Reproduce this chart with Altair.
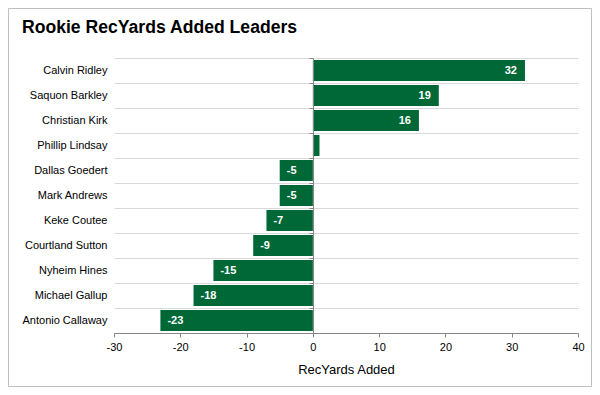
import altair as alt
import pandas as pd

players = ["Calvin Ridley", "Saquon Barkley", "Christian Kirk", "Phillip Lindsay",
           "Dallas Goedert", "Mark Andrews", "Keke Coutee", "Courtland Sutton",
           "Nyheim Hines", "Michael Gallup", "Antonio Callaway"]
rec_yards_added = [32, 19, 16, 1, -5, -5, -7, -9, -15, -18, -23]
x_ticks = [-30, -20, -10, 0, 10, 20, 30, 40]
x_domain = [-30, 40]
title_text = "Rookie RecYards Added Leaders"
x_title = "RecYards Added"

df = pd.DataFrame({"player": players, "value": rec_yards_added})

FONT = "Liberation Sans"
GREEN = "#006837"
GRAY = "#868686"
W, H = 464, 275

yscale = alt.Scale(domain=players, paddingInner=0, paddingOuter=0)
xscale = alt.Scale(domain=x_domain, nice=False)

label_axis = alt.Axis(title=None, domain=False, ticks=False, labelPadding=7,
                      labelFont=FONT, labelFontSize=11, labelColor="#000",
                      grid=True, gridColor="#d9d9d9", tickBand="extent", labelLimit=200)
x_axis = alt.Axis(values=x_ticks, title=x_title, grid=False, domainColor=GRAY,
                  tickColor=GRAY, tickSize=4, labelFont=FONT, labelFontSize=11,
                  labelColor="#000", labelPadding=4, labelExpr="'' + datum.value",
                  labelFlush=False, labelOverlap=False,
                  titleFont=FONT, titleFontSize=13,
                  titleFontWeight="normal", titleColor="#000", titlePadding=11)
zero_axis = alt.Axis(orient="left", offset=-199, title=None, labels=False, domain=True,
                     domainColor=GRAY, ticks=True, tickColor=GRAY, tickSize=4,
                     tickBand="extent", grid=False, zindex=1)

base = alt.Chart(df).transform_calculate(lbl="'' + datum.value")

bars = base.mark_bar(color=GREEN, height=alt.RelativeBandSize(0.84)).encode(
    x=alt.X("value:Q", scale=xscale, axis=x_axis),
    y=alt.Y("player:N", sort=players, scale=yscale, axis=label_axis),
)

text_style = dict(color="white", font=FONT, fontSize=11, fontWeight="bold", baseline="middle")
pos_labels = base.transform_filter("datum.value >= 2").mark_text(
    align="right", dx=-8, **text_style).encode(
    x=alt.X("value:Q", scale=xscale),
    y=alt.Y("player:N", sort=players, scale=yscale, axis=None),
    text="lbl:N",
)
neg_labels = base.transform_filter("datum.value <= -2").mark_text(
    align="left", dx=7, **text_style).encode(
    x=alt.X("value:Q", scale=xscale),
    y=alt.Y("player:N", sort=players, scale=yscale, axis=None),
    text="lbl:N",
)

zero_layer = base.mark_point(opacity=0).encode(
    x=alt.X("value:Q", scale=xscale),
    y=alt.Y("player:N", sort=players, scale=yscale, axis=zero_axis),
)

one = pd.DataFrame({"a": [0]})
border = alt.Chart(one).mark_rect(
    fill="transparent", stroke="#bfbfbf", strokeWidth=1).encode(
    x=alt.value(-105.5), x2=alt.value(477.5), y=alt.value(-49.5), y2=alt.value(328.5)
)
title = alt.Chart(one).mark_text(
    text=title_text, align="left", baseline="alphabetic", font=FONT, fontSize=17.6,
    fontWeight="bold", color="#000").encode(x=alt.value(-92), y=alt.value(-25))

chart = alt.layer(bars, pos_labels, neg_labels, zero_layer, border, title).resolve_axis(
    y="independent"
).properties(
    width=W, height=H,
    padding={"left": 106, "top": 50, "right": 14, "bottom": 54},
    autosize=alt.AutoSizeParams(type="none"),
    background="white",
).configure_view(stroke=None)

chart.save("out.html", embed_options={"renderer": "svg", "actions": False})
